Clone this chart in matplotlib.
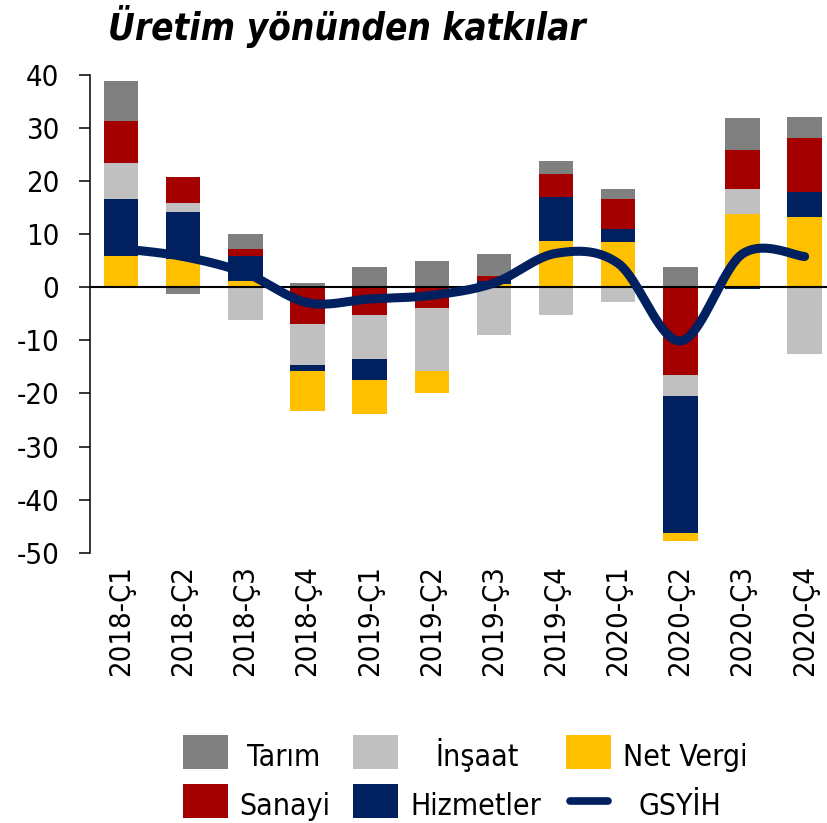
import numpy as np
import matplotlib
matplotlib.use("Agg")
import matplotlib.pyplot as plt
from matplotlib import font_manager as fm
from matplotlib.patches import Rectangle
from matplotlib.lines import Line2D

# ---------------- data ----------------
categories = ["2018-Ç1", "2018-Ç2", "2018-Ç3", "2018-Ç4",
              "2019-Ç1", "2019-Ç2", "2019-Ç3", "2019-Ç4",
              "2020-Ç1", "2020-Ç2", "2020-Ç3", "2020-Ç4"]
net_vergi = [5.9, 5.3, 1.1, -7.6, -6.5, -4.1, 0.7, 8.7, 8.6, -1.5, 13.8, 13.2]
hizmetler = [10.7, 8.8, 4.8, -1.0, -3.9, 0.0, 0.5, 8.3, 2.4, -25.9, -0.4, 4.7]
insaat = [6.9, 1.8, -6.1, -7.7, -8.3, -11.9, -9.0, -5.2, -2.8, -3.8, 4.7, -12.5]
sanayi = [7.8, 4.9, 1.3, -7.0, -5.2, -3.9, 1.0, 4.4, 5.7, -16.6, 7.3, 10.3]
tarim = [7.6, -1.3, 2.9, 0.75, 3.9, 4.9, 4.0, 2.4, 1.9, 3.8, 6.1, 3.9]
gsyih = [7.3, 5.8, 2.7, -2.9, -2.2, -1.5, 0.8, 6.4, 4.5, -10.1, 6.3, 5.8]
yticks = [40, 30, 20, 10, 0, -10, -20, -30, -40, -50]
title = "Üretim yönünden katkılar"

C_TARIM = "#808080"
C_INSAAT = "#C0C0C0"
C_NETV = "#FFC000"
C_SANAYI = "#A50000"
C_HIZ = "#002060"
C_LINE = "#002060"

# ---------------- fonts ----------------
def pick_font():
    try:
        p = fm.findfont(fm.FontProperties(family="DejaVu Sans", stretch="condensed"),
                        fallback_to_default=False)
        if "ondensed" in p:
            return "DejaVu Sans", "condensed"
    except Exception:
        pass
    return "Liberation Sans", "normal"

FAM, STRETCH = pick_font()
plt.rcParams["font.family"] = [FAM, "DejaVu Sans"]
plt.rcParams["font.stretch"] = STRETCH

W, H = 827, 823
fig = plt.figure(figsize=(W / 100, H / 100), dpi=100)

ax_left, ax_right, ax_top, ax_bot = 90.0, 835.7, 75.0, 552.7
ax = fig.add_axes([ax_left / W, 1 - ax_bot / H, (ax_right - ax_left) / W, (ax_bot - ax_top) / H])

x = np.arange(len(categories))
bw = 0.553

pos_order = [(net_vergi, C_NETV), (hizmetler, C_HIZ), (insaat, C_INSAAT), (sanayi, C_SANAYI), (tarim, C_TARIM)]
neg_order = list(reversed(pos_order))

pos_base = np.zeros(len(x))
for vals, col in pos_order:
    v = np.array(vals, dtype=float)
    vp = np.where(v > 0, v, 0.0)
    ax.bar(x, vp, bw, bottom=pos_base, color=col, linewidth=0, zorder=2)
    pos_base += vp
neg_base = np.zeros(len(x))
for vals, col in neg_order:
    v = np.array(vals, dtype=float)
    vn = np.where(v < 0, v, 0.0)
    ax.bar(x, vn, bw, bottom=neg_base, color=col, linewidth=0, zorder=2)
    neg_base += vn

ax.axhline(0, color="black", lw=1.5, zorder=3)

# smoothed line through the data points (Bezier, like spreadsheet smoothing)
def smooth(xs, ys, n=40):
    xs = np.asarray(xs, float); ys = np.asarray(ys, float)
    P = np.column_stack([xs, ys])
    out = []
    for i in range(len(P) - 1):
        p0 = P[i - 1] if i > 0 else P[i]
        p1 = P[i]; p2 = P[i + 1]
        p3 = P[i + 2] if i + 2 < len(P) else P[i + 1]
        c1 = p1 + (p2 - p0) / 6.0
        c2 = p2 - (p3 - p1) / 6.0
        t = np.linspace(0, 1, n)[:, None]
        seg = (1 - t) ** 3 * p1 + 3 * (1 - t) ** 2 * t * c1 + 3 * (1 - t) * t ** 2 * c2 + t ** 3 * p2
        out.append(seg if i == 0 else seg[1:])
    S = np.vstack(out)
    return S[:, 0], S[:, 1]

sx, sy = smooth(x, gsyih)
ax.plot(sx, sy, color=C_LINE, lw=6.5, solid_capstyle="round", zorder=4)

ax.set_xlim(-0.5, len(x) - 0.5)
ax.set_ylim(-50, 40)
ax.set_yticks(yticks)
ax.set_yticklabels([str(t) for t in yticks])
ax.set_xticks(x)
ax.set_xticklabels(categories, rotation=90)
ax.tick_params(axis="y", direction="out", length=8, width=1.1, pad=14, labelsize=21, color="black")
ax.tick_params(axis="x", length=0, pad=9, labelsize=21)
for s in ["top", "right", "bottom"]:
    ax.spines[s].set_visible(False)
ax.spines["left"].set_linewidth(1.1)

fig.text(108 / W, 1 - 40 / H, title, fontsize=26.5, fontweight="bold", fontstyle="italic",
         ha="left", va="baseline")

# legend drawn in pixel space
lax = fig.add_axes([0, 0, 1, 1], zorder=10)
lax.set_xlim(0, W); lax.set_ylim(H, 0); lax.axis("off")
entries = [
    ("patch", C_TARIM, "Tarım", 183, 752, 284),
    ("patch", C_INSAAT, "İnşaat", 353, 752, 477),
    ("patch", C_NETV, "Net Vergi", 566, 752, 685),
    ("patch", C_SANAYI, "Sanayi", 183, 801, 285),
    ("patch", C_HIZ, "Hizmetler", 353, 801, 476),
    ("line", C_LINE, "GSYİH", 567, 801, 680),
]
for kind, col, lab, px, py, tx in entries:
    if kind == "patch":
        lax.add_patch(Rectangle((px, py - 17), 45, 34, facecolor=col, edgecolor="none"))
    else:
        lax.add_line(Line2D([px + 3, px + 41], [py, py], color=col, lw=5.5, solid_capstyle="round"))
    lax.text(tx, py + 14, lab, fontsize=21.7, ha="center", va="baseline")

fig.savefig("out.png", dpi=100)
